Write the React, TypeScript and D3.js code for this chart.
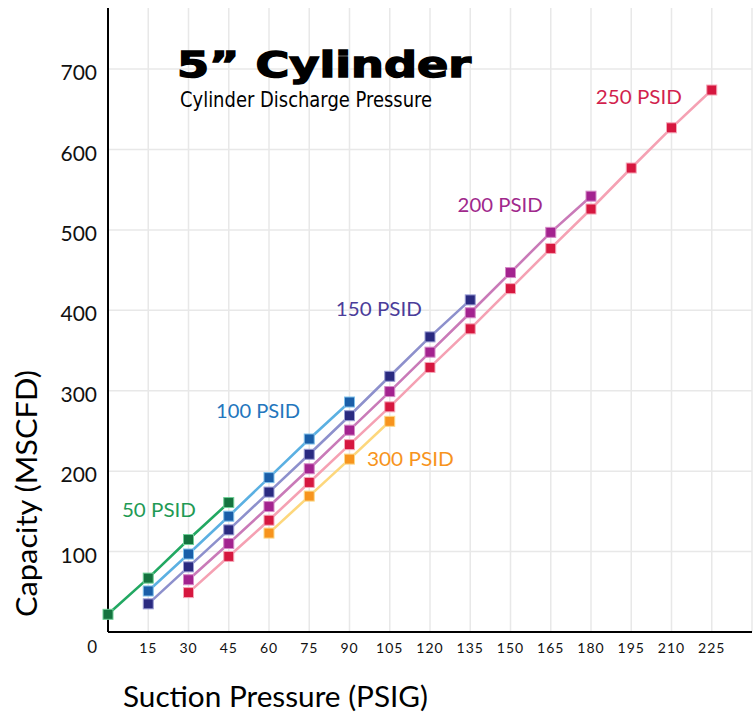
import React from "react";
import * as d3 from "d3";

const xTicks = [15, 30, 45, 60, 75, 90, 105, 120, 135, 150, 165, 180, 195, 210, 225];
const yTicks = [100, 200, 300, 400, 500, 600, 700];

const psid50 = [
  { x: 0, y: 22 }, { x: 15, y: 67 }, { x: 30, y: 115 }, { x: 45, y: 161 },
];
const psid100 = [
  { x: 15, y: 51 }, { x: 30, y: 97 }, { x: 45, y: 144 }, { x: 60, y: 192 },
  { x: 75, y: 240 }, { x: 90, y: 286 },
];
const psid150 = [
  { x: 15, y: 35 }, { x: 30, y: 81 }, { x: 45, y: 127 }, { x: 60, y: 174 },
  { x: 75, y: 221 }, { x: 90, y: 269 }, { x: 105, y: 318 }, { x: 120, y: 367 },
  { x: 135, y: 413 },
];
const psid200 = [
  { x: 30, y: 65 }, { x: 45, y: 110 }, { x: 60, y: 156 }, { x: 75, y: 203 },
  { x: 90, y: 251 }, { x: 105, y: 299 }, { x: 120, y: 348 }, { x: 135, y: 397 },
  { x: 150, y: 447 }, { x: 165, y: 497 }, { x: 180, y: 542 },
];
const psid250 = [
  { x: 30, y: 49 }, { x: 45, y: 94 }, { x: 60, y: 139 }, { x: 75, y: 186 },
  { x: 90, y: 233 }, { x: 105, y: 280 }, { x: 120, y: 329 }, { x: 135, y: 377 },
  { x: 150, y: 427 }, { x: 165, y: 477 }, { x: 180, y: 526 }, { x: 195, y: 577 },
  { x: 210, y: 627 }, { x: 225, y: 674 },
];
const psid300 = [
  { x: 60, y: 123 }, { x: 75, y: 169 }, { x: 90, y: 215 }, { x: 105, y: 262 },
];

const seriesNames = ["300 PSID", "250 PSID", "200 PSID", "150 PSID", "100 PSID", "50 PSID"];
const seriesData = [psid300, psid250, psid200, psid150, psid100, psid50];
const lineColors = ["#fdd77c", "#f5a1b3", "#c97ab8", "#8d90cc", "#5bb0e2", "#22a862"];
const markerColors = ["#f7941d", "#d6173f", "#a3238f", "#2a2a80", "#1a5ea8", "#14733f"];
const markerStrokes = ["#fbd98a", "#f5a7b8", "#d58ac6", "#9a9dd4", "#7fc0ea", "#6fcf97"];
const labelColors = ["#f7941d", "#d21f4e", "#a0288c", "#4b3d9a", "#2376bd", "#1f9a55"];
// label anchors in data units (psig, mscfd) and rendered widths
const labelX = [96.5, 181.8, 130.3, 84.9, 40.3, 5.2];
const labelY = [206.4, 656.6, 522.3, 393.0, 266.3, 143.2];
const labelW = [87, 86, 85, 86, 84, 74];

const W = 756;
const H = 715;
const font = "'Lato', 'Open Sans', sans-serif";

export default function App() {
  const x = d3.scaleLinear().domain([0, 240]).range([108, 752]);
  const y = d3.scaleLinear().domain([0, 776]).range([632, 8]);
  const line = d3
    .line<{ x: number; y: number }>()
    .x((d) => x(d.x))
    .y((d) => y(d.y));
  const gridX = d3.range(15, 241, 15);

  return (
    <svg
      width={W}
      height={H}
      style={{ position: "absolute", left: 0, top: 0, background: "#fff" }}
      fontFamily={font}
    >
      <rect x={0} y={0} width={W} height={H} fill="#fff" />
      {/* grid */}
      {gridX.map((v) => (
        <line key={"gx" + v} x1={x(v)} x2={x(v)} y1={y(776)} y2={y(0)} stroke="#e8e8e8" strokeWidth={1.5} />
      ))}
      {yTicks.map((v) => (
        <line key={"gy" + v} x1={x(0)} x2={x(240)} y1={y(v)} y2={y(v)} stroke="#e8e8e8" strokeWidth={1.5} />
      ))}
      {/* axes */}
      <line x1={x(0)} x2={x(0)} y1={y(776)} y2={y(0)} stroke="#000" strokeWidth={2} />
      <line x1={x(0)} x2={x(240)} y1={y(0)} y2={y(0)} stroke="#000" strokeWidth={2} />

      {/* y tick labels */}
      {yTicks.map((v) => (
        <text key={"yt" + v} x={97} y={y(v) + 11} textAnchor="end" fontSize={21} fill="#111">
          {v}
        </text>
      ))}
      <text x={97} y={653} textAnchor="end" fontSize={17} fill="#111">0</text>
      {/* x tick labels */}
      {xTicks.map((v) => (
        <text key={"xt" + v} x={x(v)} y={653} textAnchor="middle" fontSize={14} letterSpacing={1} fill="#111">
          {v}
        </text>
      ))}

      {/* series lines */}
      {seriesData.map((s, i) => (
        <path key={"l" + i} d={line(s) || ""} fill="none" stroke={lineColors[i]} strokeWidth={2.6} />
      ))}
      {seriesData.map((s, i) =>
        s.map((d, j) => (
          <rect
            key={"m" + i + "-" + j}
            x={x(d.x) - 5}
            y={y(d.y) - 5}
            width={10}
            height={10}
            fill={markerColors[i]}
            stroke={markerStrokes[i]}
            strokeWidth={1}
          />
        ))
      )}

      {/* series labels */}
      {seriesNames.map((n, i) => (
        <text
          key={"sl" + i}
          x={x(labelX[i])}
          y={y(labelY[i])}
          fontSize={19.5}
          fill={labelColors[i]}
          textLength={labelW[i]}
          lengthAdjust="spacingAndGlyphs"
        >
          {n}
        </text>
      ))}

      {/* title */}
      <text
        x={177}
        y={77}
        fontFamily="'DejaVu Sans', sans-serif"
        fontWeight="bold"
        fontSize={35}
        fill="#000"
        stroke="#000"
        strokeWidth={1.4}
        textLength={294}
        lengthAdjust="spacingAndGlyphs"
      >
        5” Cylinder
      </text>
      <text
        x={180}
        y={107}
        fontFamily="'Liberation Sans Narrow', 'DejaVu Sans Condensed', 'Roboto', sans-serif"
        fontSize={21}
        fill="#000"
        textLength={252}
        lengthAdjust="spacingAndGlyphs"
      >
        Cylinder Discharge Pressure
      </text>

      {/* axis titles */}
      <text x={123} y={707} fontSize={28} fill="#000" textLength={305} lengthAdjust="spacingAndGlyphs">
        Suction Pressure (PSIG)
      </text>
      <text
        transform="translate(37,617) rotate(-90)"
        fontSize={28}
        fill="#000"
        textLength={247}
        lengthAdjust="spacingAndGlyphs"
      >
        Capacity (MSCFD)
      </text>
    </svg>
  );
}
